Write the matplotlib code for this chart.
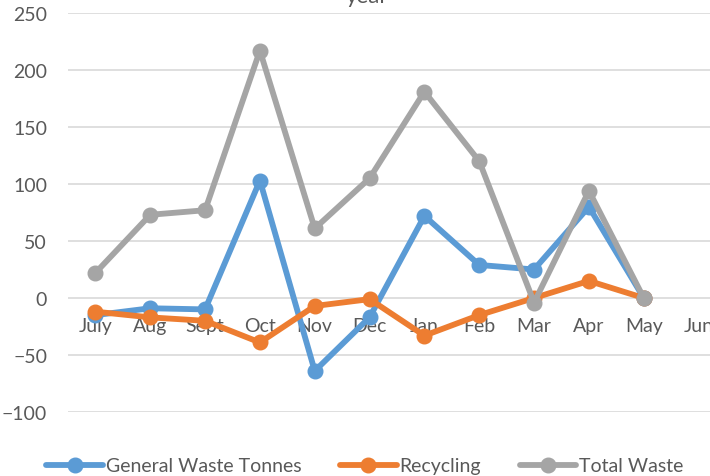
import matplotlib
matplotlib.use('Agg')
import matplotlib.pyplot as plt

plt.rcParams['font.family'] = ['Lato', 'DejaVu Sans']

months = ['July', 'Aug', 'Sept', 'Oct', 'Nov', 'Dec', 'Jan', 'Feb', 'Mar', 'Apr', 'May', 'Jun']
general_waste = [-15, -9, -10, 103, -64, -17, 72, 29, 25, 80, 0]
recycling = [-12, -17, -20, -39, -7, -1, -33, -15, 0, 15, 0]
total_waste = [22, 73, 77, 217, 61, 105, 181, 120, -4, 94, 0]

series = [
    ('General Waste Tonnes', general_waste, '#5B9BD5'),
    ('Recycling', recycling, '#ED7D31'),
    ('Total Waste', total_waste, '#A5A5A5'),
]

fig = plt.figure(figsize=(7.1, 4.77), dpi=100)
ax = fig.add_axes([68 / 710, 1 - 413 / 477, 658 / 710, 399 / 477])

x = list(range(len(months)))
for name, vals, col in series:
    ax.plot(x[:len(vals)], vals, color=col, lw=4.2, marker='o', markersize=10.5,
            solid_capstyle='round', label=name, zorder=3)

ax.set_xlim(-0.5, len(months) - 0.5)
ax.set_ylim(-100, 250)
ax.set_yticks(range(-100, 251, 50))
ax.grid(axis='y', color='#D9D9D9', lw=1.2, zorder=0)
ax.set_xticks(x)
ax.set_xticklabels(months)

for s in ['left', 'right', 'top']:
    ax.spines[s].set_visible(False)
ax.spines['bottom'].set_position(('data', 0))
ax.spines['bottom'].set_visible(False)
ax.tick_params(axis='both', length=0, labelsize=14, labelcolor='#595959')
ax.tick_params(axis='y', pad=15)
ax.tick_params(axis='x', pad=14)

# chart title sits mostly above the visible area
fig.text(367 / 710, 1 - 3 / 477, 'year', ha='center', va='baseline',
         fontsize=16, color='#595959')

fig.legend(loc='center', bbox_to_anchor=(365 / 710, 1 - 467 / 477), ncol=3,
           frameon=False, fontsize=14, handlelength=2.9, handletextpad=0.15,
           columnspacing=2.0, labelcolor='#595959')

fig.savefig('out.png', dpi=100)
